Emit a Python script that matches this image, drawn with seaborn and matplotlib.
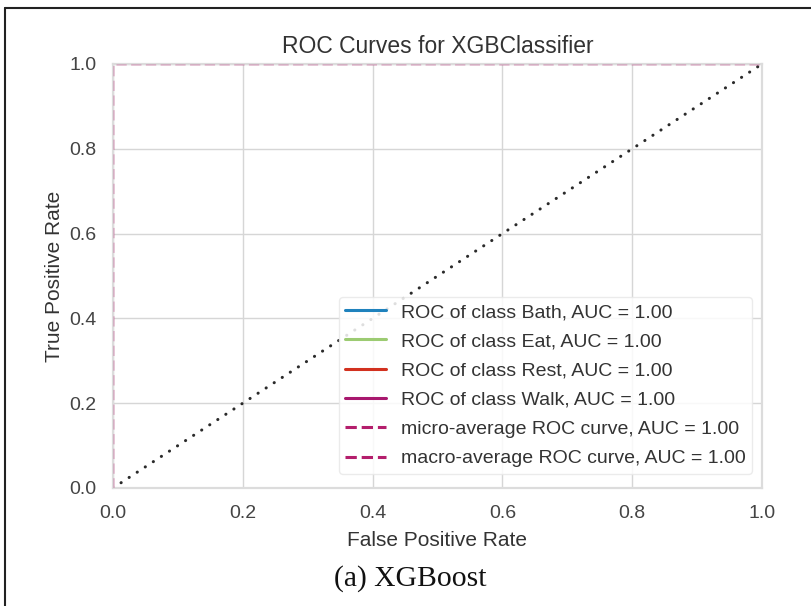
import matplotlib
matplotlib.use("Agg")
import matplotlib.pyplot as plt
from matplotlib.lines import Line2D
import seaborn as sns
import pandas as pd

# ---- data ----
class_names = ["Bath", "Eat", "Rest", "Walk"]
class_auc = [1.00, 1.00, 1.00, 1.00]
class_fpr = [[0.0, 0.0, 1.0], [0.0, 0.0, 1.0], [0.0, 0.0, 1.0], [0.0, 0.0, 1.0]]
class_tpr = [[0.0, 1.0, 1.0], [0.0, 1.0, 1.0], [0.0, 1.0, 1.0], [0.0, 1.0, 1.0]]
micro_fpr = [0.0, 0.0, 1.0]
micro_tpr = [0.0, 1.0, 1.0]
micro_auc = 1.00
macro_fpr = [0.0, 0.0, 1.0]
macro_tpr = [0.0, 1.0, 1.0]
macro_auc = 1.00
diag = [0.0, 1.0]
ticks = [0.0, 0.2, 0.4, 0.6, 0.8, 1.0]

class_colors = ["#1f82bd", "#9ccb72", "#d2311f", "#a8186e"]
avg_color = "#b41e6c"
avg_dash = (0, (3.7, 1.6))

sns.set_theme(style="whitegrid")
plt.rcParams["font.family"] = ["Liberation Sans", "DejaVu Sans"]
plt.rcParams["grid.color"] = "#d6d6d6"

fig = plt.figure(figsize=(8.12, 6.06), dpi=100)
ax = fig.add_axes([113 / 812, 1 - 488 / 606, (762 - 113) / 812, (488 - 64) / 606])

handles = []
for name, auc, fpr, tpr, c in zip(class_names, class_auc, class_fpr, class_tpr, class_colors):
    df = pd.DataFrame({"fpr": fpr, "tpr": tpr})
    sns.lineplot(data=df, x="fpr", y="tpr", ax=ax, color=c, lw=1.4, sort=False,
                 estimator=None, legend=False, zorder=2)
    handles.append(Line2D([], [], color=c, lw=2.2,
                          label=f"ROC of class {name}, AUC = {auc:.2f}"))

for fpr, tpr, label, auc in [(micro_fpr, micro_tpr, "micro-average ROC curve", micro_auc),
                             (macro_fpr, macro_tpr, "macro-average ROC curve", macro_auc)]:
    df = pd.DataFrame({"fpr": fpr, "tpr": tpr})
    sns.lineplot(data=df, x="fpr", y="tpr", ax=ax, color=avg_color, lw=2, sort=False,
                 estimator=None, legend=False, alpha=0.12, zorder=3)
    ax.lines[-1].set_linestyle(avg_dash)
    handles.append(Line2D([], [], color=avg_color, lw=2.2, linestyle=avg_dash,
                          label=f"{label}, AUC = {auc:.2f}"))

ddf = pd.DataFrame({"x": diag, "y": diag})
sns.lineplot(data=ddf, x="x", y="y", ax=ax, color="#2a2a2a", lw=2.2, legend=False, zorder=2.2)
dl = ax.lines[-1]
dl.set_linestyle((0, (0.05, 3.1)))
dl.set_dash_capstyle("round")

ax.set_xlim(0, 1)
ax.set_ylim(0, 1)
ax.set_xticks(ticks)
ax.set_yticks(ticks)
ax.set_xticklabels([f"{t:.1f}" for t in ticks])
ax.set_yticklabels([f"{t:.1f}" for t in ticks])
ax.tick_params(labelsize=14, colors="#444444", pad=6)
ax.set_title("ROC Curves for XGBClassifier", fontsize=16.5, color="#333333", pad=8)
ax.set_xlabel("False Positive Rate", fontsize=15, color="#333333", labelpad=7)
ax.set_ylabel("True Positive Rate", fontsize=15, color="#333333", labelpad=4)
for s in ax.spines.values():
    s.set_color("#dcdcdc")
    s.set_linewidth(1.6)
    s.set_zorder(2.5)

leg = ax.legend(handles=handles, loc="lower right", fontsize=14, frameon=True,
                labelspacing=0.6, handlelength=2.1, handletextpad=0.75,
                borderpad=0.34, borderaxespad=0, framealpha=0.85,
                bbox_to_anchor=(1 - 10 / 649, 14 / 424), labelcolor="#333333")
leg.get_frame().set_edgecolor("#e8e8e8")
leg.get_frame().set_linewidth(1.0)
leg.get_frame().set_facecolor("white")

fig.text(410 / 812, 1 - 579 / 606, "(a) XGBoost", fontsize=21.3, family="Liberation Serif",
         ha="center", va="center", color="#111111")

# figure border (left and top edges)
fig.add_artist(Line2D([5 / 812, 5 / 812], [0, 1 - 8 / 606], transform=fig.transFigure,
                      color="#222222", lw=1.5))
fig.add_artist(Line2D([5 / 812, 1], [1 - 8 / 606, 1 - 8 / 606], transform=fig.transFigure,
                      color="#222222", lw=1.5))

fig.savefig("out.png", dpi=100)
